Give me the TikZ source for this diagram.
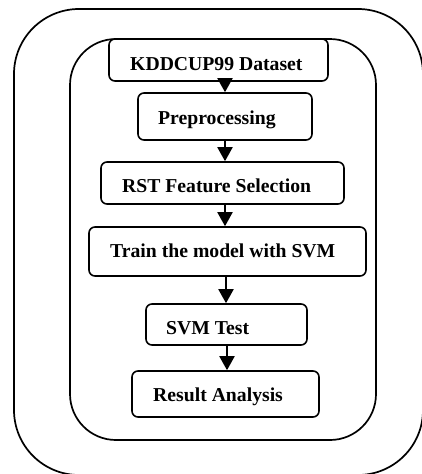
\documentclass[tikz,border=0pt]{standalone}
\usepackage{fontspec}
\setmainfont{Liberation Serif}
\usetikzlibrary{arrows.meta}
\tikzset{
  stepbox/.style={draw, line width=1.6pt, rounded corners=6pt, inner sep=0pt},
  steptext/.style={anchor=base west, inner sep=0pt, font=\fontsize{19.7pt}{22pt}\selectfont\bfseries},
  arr/.style={line width=2pt, -{Triangle[length=14pt,width=15pt]}},
  frame/.style={draw, line width=1.7pt}
}
\begin{document}
\begin{tikzpicture}[x=1pt,y=-1pt]
\useasboundingbox (0,0) rectangle (422,474);
\draw[frame, rounded corners=65pt] (14,9) rectangle (423,475);
\draw[frame, rounded corners=46pt] (70,39) rectangle (376,440);

\node[stepbox, minimum width=219pt, minimum height=42pt, fill=white] (kdd) at (218.5,60) {};
\node[stepbox, minimum width=174pt, minimum height=47pt] (pre) at (225,116.5) {};
\node[stepbox, minimum width=243pt, minimum height=42pt] (rst) at (222.5,183) {};
\node[stepbox, minimum width=277pt, minimum height=49pt] (train) at (227.5,251.5) {};
\node[stepbox, minimum width=161pt, minimum height=41pt] (test) at (226.5,324.5) {};
\node[stepbox, minimum width=187pt, minimum height=46pt] (res) at (225.5,394) {};

\node[steptext] (tkdd) at (130,70) {KDDCUP99 Dataset};
\node[steptext] (tpre) at (158,124) {Preprocessing};
\node[steptext] (trst) at (122,192) {RST Feature Selection};
\node[steptext] (ttrain) at (110,257) {Train the model with SVM};
\node[steptext] (ttest) at (166,334) {SVM Test};
\node[steptext] (tres) at (153,401) {Result Analysis};

\coordinate (a1) at (225,0);
\coordinate (a2) at (225,0);
\coordinate (a3) at (225,0);
\coordinate (a4) at (226,0);
\coordinate (a5) at (227,0);
\draw[arr] (kdd.south -| a1) -- (pre.north -| a1);
\draw[arr] (pre.south -| a2) -- (rst.north -| a2);
\draw[arr] (rst.south -| a3) -- (train.north -| a3);
\draw[arr] (train.south -| a4) -- (test.north -| a4);
\draw[arr] (test.south -| a5) -- (res.north -| a5);
\end{tikzpicture}
\end{document}
